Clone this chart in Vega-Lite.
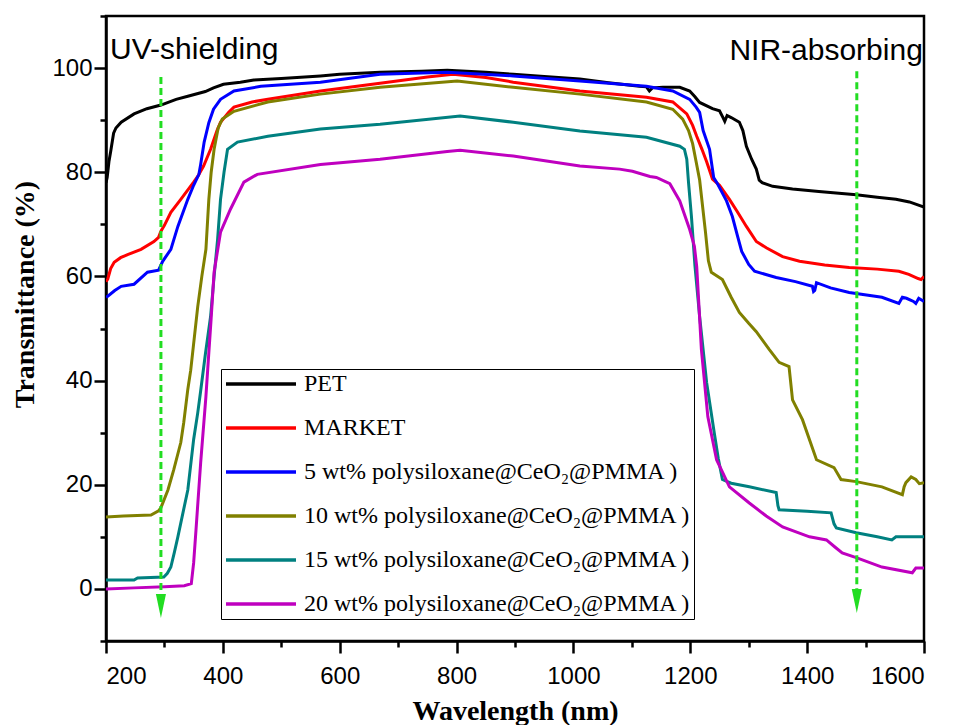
{
"$schema": "https://vega.github.io/schema/vega-lite/v6.json",
"width": 818,
"height": 625,
"autosize": {"type": "none"},
"padding": {"left": 106, "top": 16, "right": 32, "bottom": 84},
"background": "white",
"config": {
  "view": {"stroke": "black", "strokeWidth": 2.5},
  "axis": {"grid": false, "domainColor": "black", "domainWidth": 2.5, "tickColor": "black", "tickWidth": 2.5,
    "labelFont": "Liberation Sans", "labelFontSize": 24, "labelColor": "black", "labelOverlap": false,
    "titleFont": "Liberation Serif", "titleFontSize": 28, "titleFontWeight": "bold", "titleColor": "black"}
},
"datasets": {
  "curves": [
{"s":"PET","x":200,"y":78},{"s":"PET","x":202,"y":79},{"s":"PET","x":205,"y":82},{"s":"PET","x":208,"y":84},{"s":"PET","x":213,"y":87.5},{"s":"PET","x":217,"y":88.5},{"s":"PET","x":226,"y":89.6},{"s":"PET","x":248,"y":91.2},{"s":"PET","x":270,"y":92.2},{"s":"PET","x":294,"y":92.9},{"s":"PET","x":320,"y":94},{"s":"PET","x":340,"y":94.6},{"s":"PET","x":370,"y":95.5},{"s":"PET","x":384,"y":96.2},{"s":"PET","x":401,"y":96.9},{"s":"PET","x":430,"y":97.3},{"s":"PET","x":453,"y":97.7},{"s":"PET","x":500,"y":98},{"s":"PET","x":567,"y":98.5},{"s":"PET","x":600,"y":98.8},{"s":"PET","x":669,"y":99.2},{"s":"PET","x":740,"y":99.4},{"s":"PET","x":784,"y":99.6},{"s":"PET","x":850,"y":99.2},{"s":"PET","x":897,"y":98.8},{"s":"PET","x":950,"y":98.4},{"s":"PET","x":1011,"y":97.9},{"s":"PET","x":1060,"y":97.2},{"s":"PET","x":1113,"y":96.5},{"s":"PET","x":1125,"y":96.4},{"s":"PET","x":1130,"y":95.6},{"s":"PET","x":1135,"y":96.2},{"s":"PET","x":1153,"y":96.3},{"s":"PET","x":1182,"y":96.3},{"s":"PET","x":1199,"y":95.6},{"s":"PET","x":1208,"y":94.5},{"s":"PET","x":1216,"y":93.4},{"s":"PET","x":1238,"y":92.2},{"s":"PET","x":1250,"y":91.8},{"s":"PET","x":1256,"y":90.5},{"s":"PET","x":1259,"y":89.8},{"s":"PET","x":1263,"y":90.9},{"s":"PET","x":1270,"y":90.5},{"s":"PET","x":1284,"y":89.6},{"s":"PET","x":1290,"y":88},{"s":"PET","x":1296,"y":85},{"s":"PET","x":1305,"y":82.5},{"s":"PET","x":1313,"y":80.6},{"s":"PET","x":1318,"y":78.5},{"s":"PET","x":1323,"y":78},{"s":"PET","x":1341,"y":77.3},{"s":"PET","x":1375,"y":76.8},{"s":"PET","x":1420,"y":76.3},{"s":"PET","x":1484,"y":75.7},{"s":"PET","x":1520,"y":75.2},{"s":"PET","x":1552,"y":74.8},{"s":"PET","x":1575,"y":74.3},{"s":"PET","x":1600,"y":73.3},
{"s":"MARKET","x":200,"y":59},{"s":"MARKET","x":203,"y":59.5},{"s":"MARKET","x":208,"y":61.5},{"s":"MARKET","x":214,"y":62.7},{"s":"MARKET","x":225,"y":63.6},{"s":"MARKET","x":237,"y":64.2},{"s":"MARKET","x":260,"y":65.2},{"s":"MARKET","x":282,"y":66.7},{"s":"MARKET","x":290,"y":67.5},{"s":"MARKET","x":294,"y":68.7},{"s":"MARKET","x":300,"y":69.8},{"s":"MARKET","x":311,"y":72.3},{"s":"MARKET","x":328,"y":74.8},{"s":"MARKET","x":350,"y":78.1},{"s":"MARKET","x":357,"y":79.2},{"s":"MARKET","x":367,"y":81.2},{"s":"MARKET","x":379,"y":84.4},{"s":"MARKET","x":390,"y":88},{"s":"MARKET","x":396,"y":89.6},{"s":"MARKET","x":410,"y":91.5},{"s":"MARKET","x":419,"y":92.5},{"s":"MARKET","x":450,"y":93.5},{"s":"MARKET","x":477,"y":94},{"s":"MARKET","x":567,"y":95.6},{"s":"MARKET","x":669,"y":97.1},{"s":"MARKET","x":750,"y":98.3},{"s":"MARKET","x":794,"y":98.8},{"s":"MARKET","x":850,"y":98.2},{"s":"MARKET","x":897,"y":97.3},{"s":"MARKET","x":1011,"y":95.6},{"s":"MARKET","x":1125,"y":94.4},{"s":"MARKET","x":1170,"y":93.5},{"s":"MARKET","x":1194,"y":91.2},{"s":"MARKET","x":1204,"y":89},{"s":"MARKET","x":1211,"y":86.9},{"s":"MARKET","x":1220,"y":84.4},{"s":"MARKET","x":1228,"y":82},{"s":"MARKET","x":1238,"y":78.7},{"s":"MARKET","x":1250,"y":77.5},{"s":"MARKET","x":1267,"y":74.8},{"s":"MARKET","x":1280,"y":72.5},{"s":"MARKET","x":1296,"y":69.6},{"s":"MARKET","x":1313,"y":66.7},{"s":"MARKET","x":1330,"y":65.5},{"s":"MARKET","x":1358,"y":63.8},{"s":"MARKET","x":1387,"y":62.9},{"s":"MARKET","x":1430,"y":62.2},{"s":"MARKET","x":1472,"y":61.7},{"s":"MARKET","x":1520,"y":61.4},{"s":"MARKET","x":1557,"y":61},{"s":"MARKET","x":1574,"y":60.4},{"s":"MARKET","x":1590,"y":59.6},{"s":"MARKET","x":1595,"y":59.4},{"s":"MARKET","x":1600,"y":60},
{"s":"5","x":200,"y":56},{"s":"5","x":203,"y":56.2},{"s":"5","x":215,"y":57.3},{"s":"5","x":226,"y":58.1},{"s":"5","x":248,"y":58.5},{"s":"5","x":271,"y":60.8},{"s":"5","x":290,"y":61.2},{"s":"5","x":297,"y":62.9},{"s":"5","x":311,"y":65.2},{"s":"5","x":323,"y":69.6},{"s":"5","x":340,"y":74.8},{"s":"5","x":350,"y":77.5},{"s":"5","x":359,"y":79.6},{"s":"5","x":362,"y":81.5},{"s":"5","x":368,"y":85.8},{"s":"5","x":376,"y":89.5},{"s":"5","x":384,"y":92.1},{"s":"5","x":396,"y":94},{"s":"5","x":419,"y":95.6},{"s":"5","x":465,"y":96.5},{"s":"5","x":567,"y":97.3},{"s":"5","x":669,"y":98.8},{"s":"5","x":784,"y":99.2},{"s":"5","x":897,"y":98.5},{"s":"5","x":1011,"y":97.5},{"s":"5","x":1125,"y":96.5},{"s":"5","x":1170,"y":95.6},{"s":"5","x":1199,"y":94},{"s":"5","x":1210,"y":92.5},{"s":"5","x":1216,"y":91.5},{"s":"5","x":1222,"y":88},{"s":"5","x":1233,"y":84.4},{"s":"5","x":1240,"y":79},{"s":"5","x":1245,"y":78.1},{"s":"5","x":1262,"y":74.5},{"s":"5","x":1272,"y":71.5},{"s":"5","x":1281,"y":67.7},{"s":"5","x":1288,"y":64.8},{"s":"5","x":1300,"y":62.3},{"s":"5","x":1310,"y":61},{"s":"5","x":1347,"y":59.8},{"s":"5","x":1380,"y":59},{"s":"5","x":1409,"y":58.1},{"s":"5","x":1411,"y":57.1},{"s":"5","x":1413,"y":57.3},{"s":"5","x":1416,"y":58.8},{"s":"5","x":1440,"y":57.8},{"s":"5","x":1472,"y":56.9},{"s":"5","x":1528,"y":56},{"s":"5","x":1557,"y":54.8},{"s":"5","x":1563,"y":56},{"s":"5","x":1570,"y":55.8},{"s":"5","x":1582,"y":55.2},{"s":"5","x":1586,"y":54.8},{"s":"5","x":1591,"y":55.8},{"s":"5","x":1600,"y":55.2},
{"s":"10","x":200,"y":13.8},{"s":"10","x":230,"y":14},{"s":"10","x":277,"y":14.2},{"s":"10","x":290,"y":15},{"s":"10","x":294,"y":15.6},{"s":"10","x":306,"y":19},{"s":"10","x":316,"y":22.9},{"s":"10","x":328,"y":28.1},{"s":"10","x":333,"y":31.9},{"s":"10","x":340,"y":38.3},{"s":"10","x":345,"y":42},{"s":"10","x":357,"y":54.2},{"s":"10","x":364,"y":60},{"s":"10","x":371,"y":65.2},{"s":"10","x":376,"y":74.8},{"s":"10","x":380,"y":80},{"s":"10","x":385,"y":84.4},{"s":"10","x":392,"y":88.5},{"s":"10","x":399,"y":90.2},{"s":"10","x":419,"y":91.7},{"s":"10","x":477,"y":93.5},{"s":"10","x":567,"y":95},{"s":"10","x":669,"y":96.3},{"s":"10","x":801,"y":97.5},{"s":"10","x":897,"y":96.3},{"s":"10","x":1011,"y":95},{"s":"10","x":1125,"y":93.5},{"s":"10","x":1170,"y":92.1},{"s":"10","x":1187,"y":90.2},{"s":"10","x":1197,"y":88},{"s":"10","x":1204,"y":85.5},{"s":"10","x":1210,"y":82},{"s":"10","x":1216,"y":78.5},{"s":"10","x":1226,"y":68.5},{"s":"10","x":1231,"y":63},{"s":"10","x":1236,"y":60.8},{"s":"10","x":1255,"y":59.4},{"s":"10","x":1270,"y":56},{"s":"10","x":1284,"y":53.1},{"s":"10","x":1300,"y":51},{"s":"10","x":1313,"y":49.4},{"s":"10","x":1335,"y":46},{"s":"10","x":1352,"y":43.5},{"s":"10","x":1369,"y":42.7},{"s":"10","x":1375,"y":36.3},{"s":"10","x":1392,"y":32.5},{"s":"10","x":1416,"y":24.8},{"s":"10","x":1446,"y":23.3},{"s":"10","x":1458,"y":21},{"s":"10","x":1484,"y":20.6},{"s":"10","x":1528,"y":19.6},{"s":"10","x":1563,"y":18.1},{"s":"10","x":1566,"y":19.6},{"s":"10","x":1569,"y":20.4},{"s":"10","x":1578,"y":21.5},{"s":"10","x":1586,"y":21},{"s":"10","x":1592,"y":20.2},{"s":"10","x":1600,"y":20.4},
{"s":"15","x":200,"y":1.7},{"s":"15","x":248,"y":1.7},{"s":"15","x":254,"y":2.1},{"s":"15","x":299,"y":2.3},{"s":"15","x":305,"y":3},{"s":"15","x":311,"y":4.2},{"s":"15","x":317,"y":7},{"s":"15","x":323,"y":10},{"s":"15","x":340,"y":19},{"s":"15","x":350,"y":28.7},{"s":"15","x":357,"y":33.8},{"s":"15","x":362,"y":38},{"s":"15","x":370,"y":45},{"s":"15","x":379,"y":52.3},{"s":"15","x":385,"y":60},{"s":"15","x":391,"y":67.1},{"s":"15","x":396,"y":74.8},{"s":"15","x":402,"y":80},{"s":"15","x":408,"y":84.4},{"s":"15","x":425,"y":85.8},{"s":"15","x":477,"y":86.9},{"s":"15","x":567,"y":88.3},{"s":"15","x":669,"y":89.2},{"s":"15","x":806,"y":90.8},{"s":"15","x":897,"y":89.6},{"s":"15","x":1011,"y":87.9},{"s":"15","x":1125,"y":86.7},{"s":"15","x":1182,"y":85},{"s":"15","x":1190,"y":84.4},{"s":"15","x":1194,"y":82.5},{"s":"15","x":1197,"y":78},{"s":"15","x":1202,"y":71.5},{"s":"15","x":1208,"y":62},{"s":"15","x":1216,"y":52.3},{"s":"15","x":1228,"y":39.6},{"s":"15","x":1241,"y":30},{"s":"15","x":1248,"y":25},{"s":"15","x":1255,"y":21},{"s":"15","x":1270,"y":20.3},{"s":"15","x":1301,"y":19.6},{"s":"15","x":1347,"y":18.5},{"s":"15","x":1350,"y":16},{"s":"15","x":1352,"y":15.2},{"s":"15","x":1400,"y":14.9},{"s":"15","x":1441,"y":14.6},{"s":"15","x":1446,"y":12.5},{"s":"15","x":1450,"y":11.7},{"s":"15","x":1484,"y":10.8},{"s":"15","x":1520,"y":10},{"s":"15","x":1545,"y":9.4},{"s":"15","x":1552,"y":10},{"s":"15","x":1600,"y":10},
{"s":"20","x":200,"y":0},{"s":"20","x":248,"y":0.2},{"s":"20","x":300,"y":0.4},{"s":"20","x":334,"y":0.6},{"s":"20","x":346,"y":1},{"s":"20","x":350,"y":5},{"s":"20","x":354,"y":11.3},{"s":"20","x":362,"y":24.2},{"s":"20","x":371,"y":36.9},{"s":"20","x":374,"y":42},{"s":"20","x":380,"y":52},{"s":"20","x":385,"y":60.8},{"s":"20","x":396,"y":68.5},{"s":"20","x":413,"y":72.9},{"s":"20","x":436,"y":78.1},{"s":"20","x":459,"y":79.6},{"s":"20","x":567,"y":81.5},{"s":"20","x":669,"y":82.5},{"s":"20","x":784,"y":84},{"s":"20","x":806,"y":84.2},{"s":"20","x":897,"y":83.1},{"s":"20","x":1011,"y":81.2},{"s":"20","x":1079,"y":80.6},{"s":"20","x":1101,"y":80.2},{"s":"20","x":1131,"y":79.2},{"s":"20","x":1142,"y":79},{"s":"20","x":1165,"y":77.8},{"s":"20","x":1182,"y":74.5},{"s":"20","x":1199,"y":69},{"s":"20","x":1207,"y":65.8},{"s":"20","x":1211,"y":61.9},{"s":"20","x":1215,"y":54},{"s":"20","x":1219,"y":46},{"s":"20","x":1230,"y":33.1},{"s":"20","x":1245,"y":24.8},{"s":"20","x":1267,"y":19.6},{"s":"20","x":1301,"y":16.5},{"s":"20","x":1330,"y":14},{"s":"20","x":1358,"y":11.9},{"s":"20","x":1404,"y":10},{"s":"20","x":1433,"y":9.4},{"s":"20","x":1448,"y":8},{"s":"20","x":1460,"y":6.9},{"s":"20","x":1484,"y":6},{"s":"20","x":1528,"y":4.2},{"s":"20","x":1580,"y":3.1},{"s":"20","x":1586,"y":4},{"s":"20","x":1600,"y":4}
  ],
  "arrows": [
    {"x": 294, "top": 98.3, "base": -1.6, "tip": -5.6},
    {"x": 1485, "top": 99.4, "base": -0.6, "tip": -4.6}
  ],
  "noteL": [{"x": 207, "y": 101.7, "t": "UV-shielding"}],
  "noteR": [{"x": 1598, "y": 101.5, "t": "NIR-absorbing"}]
},
"layer": [
  {
    "data": {"name": "curves"},
    "mark": {"type": "line", "strokeWidth": 3, "clip": true},
    "encoding": {
      "x": {"field": "x", "type": "quantitative",
        "scale": {"domain": [200, 1600], "nice": false, "zero": false},
        "axis": {"title": "Wavelength (nm)", "values": [200,300,400,500,600,700,800,900,1000,1100,1200,1300,1400,1500,1600],
          "format": "d",
          "labelExpr": "datum.value % 200 === 0 ? datum.label : ''",
          "tickSize": {"condition": {"test": "datum.value % 200 === 0", "value": 12}, "value": 6},
          "labelPadding": 11, "titleY": 78, "titleBaseline": "alphabetic"}},
      "y": {"field": "y", "type": "quantitative",
        "scale": {"domain": [-10, 110], "nice": false, "zero": false},
        "axis": {"title": "Transmittance (%)", "values": [-10,0,10,20,30,40,50,60,70,80,90,100,110],
          "format": "d",
          "labelExpr": "datum.value % 20 === 0 ? datum.label : ''",
          "tickSize": {"condition": {"test": "datum.value % 20 === 0", "value": 12}, "value": 6},
          "labelPadding": 2, "titleX": -81, "titleY": 278, "titleAngle": -90, "titleBaseline": "middle", "titleAlign": "center"}},
      "color": {"field": "s", "type": "nominal",
        "scale": {"domain": ["PET", "MARKET", "5", "10", "15", "20"], "range": ["#000000", "#ff0000", "#0000ff", "#808000", "#008080", "#bf00bf"]},
        "legend": {"title": null, "orient": "none", "legendX": 115, "legendY": 353,
          "symbolType": "M-1,0L6,0", "symbolSize": 400, "symbolStrokeWidth": 3.5,
          "labelFont": "Liberation Serif", "labelFontSize": 24, "labelColor": "black", "labelLimit": 600, "labelOffset": 56,
          "labelExpr": "datum.label == 'PET' || datum.label == 'MARKET' ? datum.label : datum.label + ' wt% polysiloxane@CeO₂@PMMA )'",
          "strokeColor": "black", "padding": 3, "rowPadding": 20, "fillColor": "white"}},
      "order": {"field": "x", "type": "quantitative"}
    }
  },
  {
    "data": {"name": "arrows"},
    "mark": {"type": "rule", "color": "#22dd22", "strokeWidth": 3, "strokeDash": [7, 4]},
    "encoding": {
      "x": {"field": "x", "type": "quantitative"},
      "y": {"field": "top", "type": "quantitative"},
      "y2": {"field": "base"}
    }
  },
  {
    "data": {"name": "arrows"},
    "mark": {"type": "point", "shape": "M-0.42,-2L0.42,-2L0,0Z", "size": 576, "filled": true, "color": "#22dd22", "opacity": 1, "strokeWidth": 0},
    "encoding": {
      "x": {"field": "x", "type": "quantitative"},
      "y": {"field": "tip", "type": "quantitative"}
    }
  },
  {
    "data": {"name": "noteL"},
    "mark": {"type": "text", "font": "Liberation Sans", "fontSize": 30, "color": "black", "baseline": "alphabetic", "align": "left"},
    "encoding": {
      "x": {"field": "x", "type": "quantitative"},
      "y": {"field": "y", "type": "quantitative"},
      "text": {"field": "t"}
    }
  },
  {
    "data": {"name": "noteR"},
    "mark": {"type": "text", "font": "Liberation Sans", "fontSize": 30, "color": "black", "baseline": "alphabetic", "align": "right"},
    "encoding": {
      "x": {"field": "x", "type": "quantitative"},
      "y": {"field": "y", "type": "quantitative"},
      "text": {"field": "t"}
    }
  }
]
}
